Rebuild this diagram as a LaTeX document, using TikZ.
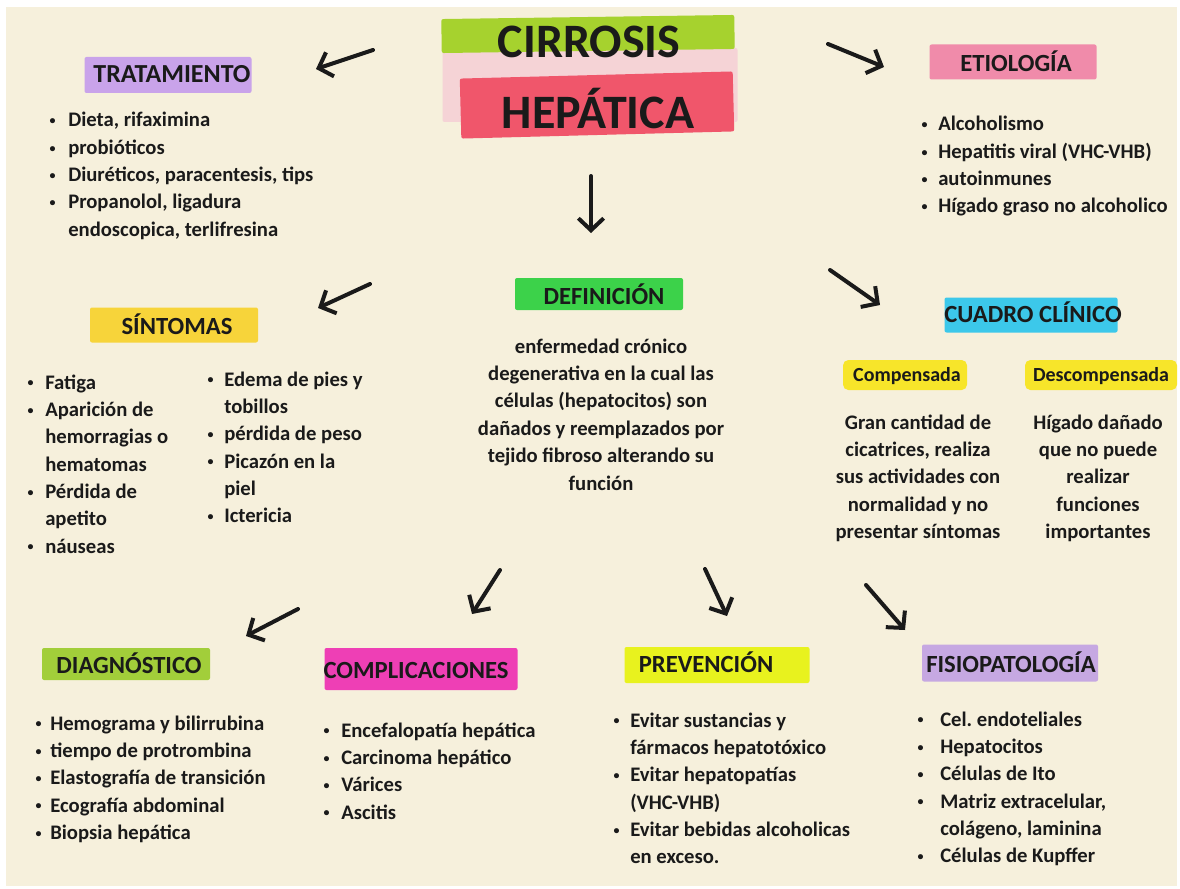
\documentclass[tikz,border=0pt]{standalone}
\usepackage{fontspec}
\setmainfont{Carlito}
\usetikzlibrary{arrows.meta}
\definecolor{bg}{HTML}{F6F0DC}
\definecolor{ink}{HTML}{1A1A1A}
\definecolor{tgreen}{HTML}{A6D22E}
\definecolor{tpink}{HTML}{F5D3D6}
\definecolor{tred}{HTML}{F0566B}
\definecolor{cpurple}{HTML}{C9A3EA}
\definecolor{cpink}{HTML}{F08BAA}
\definecolor{cgreen}{HTML}{3CD24A}
\definecolor{cyellow}{HTML}{F7D43A}
\definecolor{ccyan}{HTML}{3CC8EA}
\definecolor{cyel2}{HTML}{F7E52A}
\definecolor{cgreen2}{HTML}{A2CE3A}
\definecolor{cmag}{HTML}{EE3FB5}
\definecolor{clime}{HTML}{E8F21E}
\definecolor{clav}{HTML}{C6A8E2}
\newcommand\blist[2]{\begin{tabular}[t]{@{}p{#1}@{}l@{}}#2\end{tabular}}
\newcommand\clist[1]{\begin{tabular}[t]{@{}c@{}}#1\end{tabular}}
\newcommand\bul{\hspace{1pt}\raisebox{1.6pt}{\fontsize{9}{9}\selectfont\textbullet}}
\begin{document}
\begin{tikzpicture}[x=0.75pt,y=-0.75pt,
  hbox/.style n args={3}{fill=#1, minimum width=#2*0.75pt, minimum height=#3*0.75pt, inner sep=0pt, draw=none, rounded corners=1.5pt},
  head/.style={font=\bfseries\fontsize{18.5}{20}\selectfont, inner sep=0pt, text height=11.9pt, text depth=0pt, text=ink},
  sub/.style={font=\bfseries\fontsize{15}{18}\selectfont, inner sep=0pt, text height=9.7pt, text depth=0pt, text=ink},
  body/.style={font=\bfseries\fontsize{15.5}{20.5}\selectfont, inner sep=0pt, anchor=base west, text=ink},
  cbody/.style={font=\bfseries\fontsize{15.5}{20.6}\selectfont, inner sep=0pt, anchor=base, text=ink},
  ttl/.style={font=\bfseries\fontsize{36}{40}\selectfont, inner sep=0pt, anchor=base, text=ink},
  arr/.style={line width=3pt, line cap=round, line join=round, draw=ink, -{Straight Barb[length=9pt,width=19pt]}}
]
\fill[white] (0,0) rectangle (1180,888);
\useasboundingbox (0,0) rectangle (1180,888);
\fill[bg] (6,7) rectangle (1177,886);

% ---------- title ----------
\node[hbox={tpink}{295}{74}] (tpinkband) at (590,85) {};
\node[hbox={tgreen}{293}{34}, rotate=0.8] (tgreenband) at (588,34) {};
\node[hbox={tred}{273}{60}, rotate=1.5] (tredband) at (597,105) {};
\node[ttl] (t1) at (589,58) {CIRROSIS};
\node[ttl] (t2) at (598,128) {HEPÁTICA};

% ---------- TRATAMIENTO ----------
\node[hbox={cpurple}{167}{36}] (tratbox) at (168,75) {};
\node[head, font=\bfseries\fontsize{19.5}{20}\selectfont] (trat) at (172,75) {TRATAMIENTO};
\node[body] (tratlist) at (48,127) {\blist{15pt}{%
\bul & Dieta, rifaximina\\
\bul & probióticos\\
\bul & Diuréticos, paracentesis, tips\\
\bul & Propanolol, ligadura\\
 & endoscopica, terlifresina}};

% ---------- ETIOLOGIA ----------
\node[hbox={cpink}{167}{35}] (etiobox) at (1013,62) {};
\node[head] (etio) at (1016,64) {ETIOLOGÍA};
\node[body] (etiolist) at (920,131) {\blist{13.5pt}{%
\bul & Alcoholismo\\
\bul & Hepatitis viral (VHC-VHB)\\
\bul & autoinmunes\\
\bul & Hígado graso no alcoholico}};

% ---------- DEFINICION ----------
\node[hbox={cgreen}{168}{32}] (defbox) at (599,294) {};
\node[head] (def) at (604,297) {DEFINICIÓN};
\node[cbody] (deftext) at (601,353) {\clist{%
enfermedad crónico\\
degenerativa en la cual las\\
células (hepatocitos) son\\
dañados y reemplazados por\\
tejido fibroso alterando su\\
función}};

% ---------- SINTOMAS ----------
\node[hbox={cyellow}{168}{35}] (sintbox) at (174,325) {};
\node[head] (sint) at (177,327) {SÍNTOMAS};
\node[body] (sintlist1) at (26,389) {\blist{14.25pt}{%
\bul & Fatiga\\
\bul & Aparición de\\
 & hemorragias o\\
 & hematomas\\
\bul & Pérdida de\\
 & apetito\\
\bul & náuseas}};
\node[body] (sintlist2) at (206,386) {\blist{13.5pt}{%
\bul & Edema de pies y\\
 & tobillos\\
\bul & pérdida de peso\\
\bul & Picazón en la\\
 & piel\\
\bul & Ictericia}};

% ---------- CUADRO CLINICO ----------
\node[hbox={ccyan}{173}{35}] (cuadbox) at (1031,315) {};
\node[head] (cuad) at (1033,315) {CUADRO CLÍNICO};
\node[hbox={cyel2}{124}{30}, rounded corners=4pt] (compbox) at (905,375) {};
\node[sub] (comp) at (907,375) {Compensada};
\node[hbox={cyel2}{152}{30}, rounded corners=4pt] (descbox) at (1101,375) {};
\node[sub] (desc) at (1101,375) {Descompensada};
\node[cbody] (comptext) at (918,429) {\clist{%
Gran cantidad de\\
cicatrices, realiza\\
sus actividades con\\
normalidad y no\\
presentar síntomas}};
\node[cbody] (desctext) at (1098,429) {\clist{%
Hígado dañado\\
que no puede\\
realizar\\
funciones\\
importantes}};

% ---------- DIAGNOSTICO ----------
\node[hbox={cgreen2}{168}{32}] (diagbox) at (126,664) {};
\node[head] (diag) at (129,666) {DIAGNÓSTICO};
\node[body] (diaglist) at (34,730) {\blist{12pt}{%
\bul & Hemograma y bilirrubina\\
\bul & tiempo de protrombina\\
\bul & Elastografía de transición\\
\bul & Ecografía abdominal\\
\bul & Biopsia hepática}};

% ---------- COMPLICACIONES ----------
\node[hbox={cmag}{193}{42}] (complbox) at (421,669) {};
\node[head] (compl) at (416,671) {COMPLICACIONES};
\node[body] (compllist) at (322,737) {\blist{14.25pt}{%
\bul & Encefalopatía hepática\\
\bul & Carcinoma hepático\\
\bul & Várices\\
\bul & Ascitis}};

% ---------- PREVENCION ----------
\node[hbox={clime}{185}{36}] (prevbox) at (717,665) {};
\node[head] (prev) at (706,665) {PREVENCIÓN};
\node[body] (prevlist) at (612,727) {\blist{13.5pt}{%
\bul & Evitar sustancias y\\
 & fármacos hepatotóxico\\
\bul & Evitar hepatopatías\\
 & (VHC-VHB)\\
\bul & Evitar bebidas alcoholicas\\
 & en exceso.}};

% ---------- FISIOPATOLOGIA ----------
\node[hbox={clav}{176}{37}] (fisiobox) at (1010,663) {};
\node[head] (fisio) at (1011,665) {FISIOPATOLOGÍA};
\node[body] (fisiolist) at (916,726) {\blist{18pt}{%
\bul & Cel.\ endoteliales\\
\bul & Hepatocitos\\
\bul & Células de Ito\\
\bul & Matriz extracelular,\\
 & colágeno, laminina\\
\bul & Células de Kupffer}};

% ---------- arrows ----------
\coordinate (a1s) at (373,50);   \coordinate (a1e) at (316,69);
\coordinate (a2s) at (828,44);   \coordinate (a2e) at (884,67);
\coordinate (a3s) at (591,176);  \coordinate (a3e) at (591,233);
\coordinate (a4s) at (370,284);  \coordinate (a4e) at (318,308);
\coordinate (a5s) at (830,270);  \coordinate (a5e) at (880,305);
\coordinate (a6s) at (298,609);  \coordinate (a6e) at (246,636);
\coordinate (a7s) at (500,570);  \coordinate (a7e) at (472,614);
\coordinate (a8s) at (705,569);  \coordinate (a8e) at (727,616);
\coordinate (a9s) at (866,585);  \coordinate (a9e) at (905,630);
\foreach \i in {1,...,9} \draw[arr] (a\i s) -- (a\i e);
\end{tikzpicture}
\end{document}
